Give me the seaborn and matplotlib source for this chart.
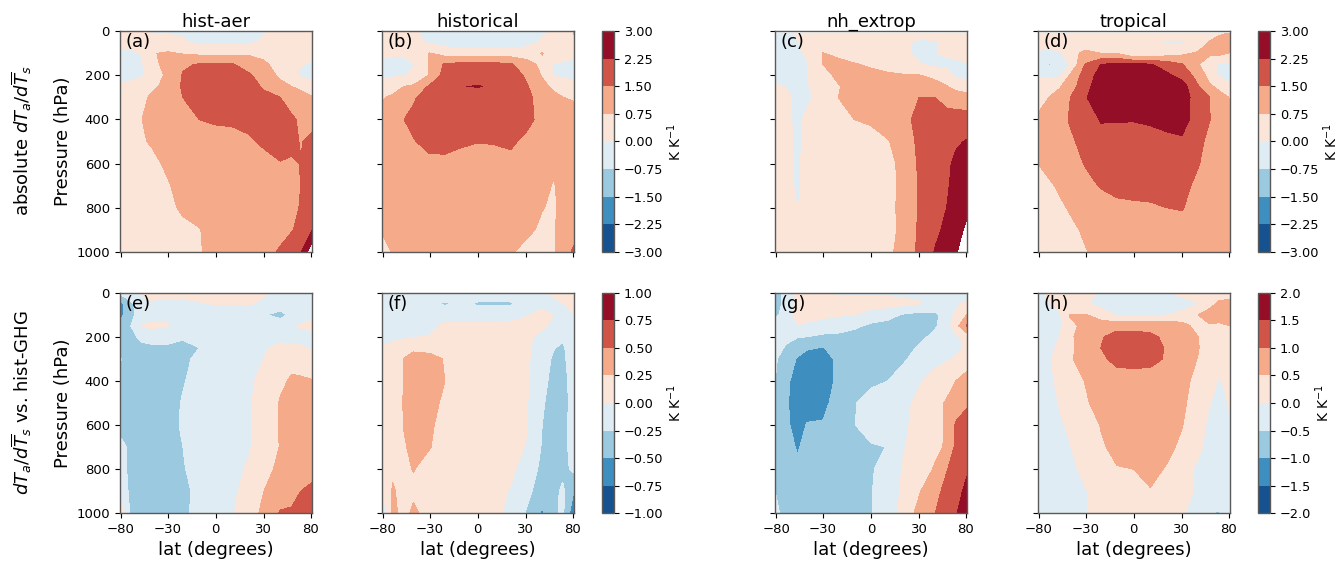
import numpy as np
import matplotlib
matplotlib.use("Agg")
import matplotlib.pyplot as plt
import seaborn as sns

# latitude columns (degrees) and pressure rows (hPa)
lat = [-87, -62, -50, -42, -30, -20, -10, 0, 10, 20, 30, 42, 52, 62, 87]
plev_a = [0, 50, 100, 150, 200, 250, 300, 400, 500, 600, 700, 800, 900, 1000]
plev_b = [10, 50, 100, 150, 200, 250, 300, 400, 500, 600, 700, 800, 900, 1000]

hist_aer_abs = [
    [.1, .1, .05, -.05, -.05, -.05, -.05, -.05, -.05, -.05, -.05, .1, .1, .1, .1],
    [.2, .2, .2, .2, .15, .05, -.1, -.1, -.1, -.1, .1, .2, .2, .2, .2],
    [-.1, -.1, .02, .7, .85, .7, .6, .6, .6, .65, .5, .3, .2, .2, .2],
    [-.3, -.25, -.05, .5, 1.0, 1.4, 1.55, 1.55, 1.55, 1.2, .9, .4, .2, .05, -.1],
    [-.2, -.2, -.05, .3, .9, 1.55, 2, 2, 1.9, 1.6, 1.2, .6, .2, -.1, -.2],
    [.1, .2, .4, .6, .95, 1.6, 2, 2, 2, 1.8, 1.4, 1, .75, .6, .3],
    [.2, .3, .6, .85, 1.1, 1.5, 2, 2, 2, 1.9, 1.7, 1.5, 1.2, 1, .8],
    [.3, .5, .75, 1, 1.2, 1.4, 1.5, 1.6, 1.6, 1.7, 1.8, 1.8, 1.6, 1.4, 1.2],
    [.3, .45, .7, .8, 1.1, 1.2, 1.2, 1.2, 1.3, 1.4, 1.6, 1.9, 1.7, 1.45, 1.7],
    [.3, .4, .5, .6, .85, 1.1, 1.2, 1.2, 1.2, 1.3, 1.3, 1.45, 1.4, 1.52, 1.9],
    [.3, .35, .4, .5, .7, .95, 1.1, 1.2, 1.2, 1.2, 1.2, 1.2, 1.3, 1.5, 2],
    [.3, .3, .35, .4, .6, .85, 1, 1.1, 1.1, 1.1, 1.1, 1.2, 1.3, 1.55, 2.0],
    [.3, .3, .3, .35, .45, .6, .72, 1, 1.1, 1.1, 1.1, 1.2, 1.45, 1.7, 2.2],
    [-.1, .3, .3, .35, .45, .6, .7, .95, 1, 1.1, 1.2, 1.6, 1.9, 2.15, 3.6],
]
historical_abs = [
    [.2, .2, .15, .1, -.2, -.3, -.3, -.3, -.3, -.3, -.3, -.1, .05, .1, .8],
    [.2, .2, .2, .2, -.1, -.3, -.4, -.4, -.4, -.4, -.3, .1, .2, .3, .6],
    [.2, .1, .1, .3, .78, .45, .3, .3, .3, .35, .45, .78, .4, .3, .2],
    [-.2, -.3, -.2, -.02, .8, 1.6, 1.7, 1.7, 1.7, 1.6, 1, .6, -.02, -.1, -.2],
    [-.1, -.1, -.02, .1, .8, 1.8, 2, 2, 2, 1.9, 1.4, .7, -.05, -.1, -.2],
    [.3, .5, .75, .85, 1.6, 2, 2.24, 2.27, 2.2, 2, 1.6, .95, .6, .4, .3],
    [.7, .85, 1.05, 1.4, 1.9, 2, 2, 2, 2, 2, 1.7, 1.2, .95, .76, .7],
    [.9, 1.05, 1.5, 1.7, 2, 2, 2, 2, 2, 2, 1.8, 1.2, 1.05, 1, .95],
    [.95, 1.05, 1.25, 1.45, 1.75, 1.7, 1.6, 1.52, 1.55, 1.65, 1.3, 1.1, 1.05, 1, .95],
    [.95, 1.05, 1.1, 1.15, 1.3, 1.35, 1.25, 1.2, 1.2, 1.25, 1.1, 1, .9, 1, 1],
    [.95, 1.05, 1.1, 1.1, 1.1, 1.1, 1.1, 1.1, 1.1, 1.1, 1.1, .95, .7, .95, 1],
    [.95, 1, 1.05, 1.05, 1.05, 1.05, 1.05, 1.05, 1.05, 1.05, 1.05, .78, .65, .95, 1],
    [.9, 1, 1, 1, 1, 1, 1, 1, 1, 1.05, .95, .6, .7, .95, 1],
    [-.1, .9, .75, 1, 1, 1, 1, 1, 1, .85, .5, .4, .72, .85, 1.7],
]
nh_extrop_abs = [
    [-.2, -.1, .05, .2, .2, .2, .2, .2, .2, .2, .2, .2, .2, .2, .2],
    [-.2, -.2, -.02, .15, .3, .3, .3, .3, .3, .1, -.1, -.05, .1, .2, .2],
    [-.2, -.2, -.15, .1, .78, .55, .4, .3, .3, .15, -.15, -.02, .1, .2, .25],
    [-.2, -.2, -.15, -.05, .75, 1.0, .8, .65, .5, .3, .05, -.15, -.2, -.15, -.05],
    [-.2, -.2, -.15, -.02, .5, .9, 1.0, .95, .85, .8, .78, .6, .3, -.1, -.2],
    [.05, -.02, -.1, -.05, .3, .7, 1.0, 1.05, 1.05, 1.05, 1.05, .95, .78, .5, .3],
    [.2, .1, -.1, -.1, .2, .75, .95, 1.1, 1.15, 1.2, 1.5, 1.5, 1.2, 1.15, 1.05],
    [.2, .1, -.1, .1, .3, .5, .75, .85, 1.1, 1.3, 1.7, 1.9, 1.8, 1.8, 1.8],
    [.2, .1, -.08, .1, .3, .35, .4, .5, .7, 1.1, 1.65, 1.9, 2.1, 2.15, 2.3],
    [.2, .1, -.05, .1, .3, .3, .35, .4, .55, .95, 1.6, 1.9, 2.1, 2.4, 3],
    [.2, .1, -.05, .1, .3, .3, .3, .35, .5, .95, 1.55, 1.85, 2.15, 2.5, 2.9],
    [.2, .15, -.01, .15, .3, .3, .3, .35, .55, .95, 1.55, 1.8, 2.25, 2.5, 2.9],
    [.2, .2, .1, .2, .3, .3, .3, .35, .5, .95, 1.6, 2.1, 2.4, 2.8, 3.1],
    [.2, .2, .2, .2, .3, .3, .3, .35, .6, 1, 1.65, 2.3, 2.6, 2.95, 3.3],
]
tropical_abs = [
    [.3, .4, .4, .3, -.1, .1, .3, .3, .3, .3, .3, .3, .5, .65, .8],
    [.3, .3, .4, .7, .5, .1, .1, .3, .2, -.1, -.1, .25, .8, 1.0, 1.05],
    [-.1, -.2, -.1, .6, .85, .75, .72, 0, .05, .4, .6, .85, .9, .95, .7],
    [-.2, -.8, -.7, 0, 1.55, 2.25, 2.4, 2.4, 2.3, 1.9, 1.55, .8, .2, -.1, -.2],
    [-.1, -.2, -.1, .75, 1.9, 2.5, 2.7, 2.7, 2.6, 2.4, 2.0, 1.2, .5, -.05, -.2],
    [.3, .45, .7, 1.1, 2.0, 2.7, 2.8, 2.8, 2.8, 2.7, 2.6, 1.55, .85, .6, .1],
    [.6, .75, 1.0, 1.45, 2.2, 2.7, 2.8, 2.8, 2.8, 2.7, 2.6, 1.9, 1.5, 1.0, .72],
    [.8, 1.05, 1.2, 1.55, 1.9, 2.3, 2.28, 2.28, 2.35, 2.5, 2.65, 1.8, 1.52, 1.2, 1],
    [.85, 1.0, 1.15, 1.35, 1.75, 2, 2.05, 2, 2, 2.05, 2.1, 1.7, 1.3, 1.15, 1],
    [.75, .95, 1.05, 1.2, 1.55, 1.9, 2, 2, 2, 2, 1.95, 1.55, 1.2, 1.1, 1],
    [.45, .65, .85, 1.0, 1.3, 1.55, 1.75, 1.8, 1.8, 1.8, 1.75, 1.3, 1.1, 1.05, 1],
    [.4, .5, .65, .8, 1.0, 1.2, 1.3, 1.35, 1.4, 1.5, 1.55, 1.15, 1.05, 1, 1],
    [.35, .4, .5, .6, .85, 1, 1.05, 1.1, 1.1, 1.15, 1.2, 1.05, 1, 1, 1],
    [.3, .3, .4, .45, .72, .9, 1, 1, 1, 1, 1, 1, 1, 1, 1],
]
hist_aer_diff = [
    [-.2, -.1, .03, .05, .05, .05, .05, .05, .05, .05, .02, -.05, -.1, -.1, -.1],
    [-.6, -.3, -.1, -.02, -.05, -.05, -.01, .01, .01, .02, -.03, -.1, -.1, -.1, -.1],
    [-.6, -.3, -.15, -.1, -.05, 0, -.1, -.1, -.1, -.15, -.23, -.33, -.2, -.1, -.05],
    [-.45, -.25, .02, .05, .02, -.1, -.15, -.15, -.15, -.15, -.15, -.1, -.02, .02, .05],
    [-.4, -.3, -.2, -.15, -.15, -.22, -.2, -.15, -.13, -.1, -.1, -.05, -.08, -.08, -.05],
    [-.4, -.35, -.3, -.3, -.3, -.32, -.25, -.2, -.15, -.08, -.02, .04, .05, .03, -.03],
    [-.24, -.3, -.35, -.35, -.32, -.28, -.22, -.18, -.12, -.05, 0, .1, .18, .18, .12],
    [-.3, -.33, -.35, -.33, -.3, -.26, -.2, -.15, -.1, -.03, .05, .2, .28, .27, .26],
    [-.3, -.33, -.33, -.33, -.3, -.24, -.18, -.15, -.1, -.02, .07, .27, .3, .3, .3],
    [-.3, -.3, -.3, -.3, -.28, -.24, -.18, -.12, -.08, -.02, .08, .27, .32, .32, .32],
    [-.2, -.28, -.33, -.33, -.3, -.25, -.19, -.12, -.08, -.02, .1, .26, .33, .35, .36],
    [-.2, -.28, -.3, -.3, -.3, -.26, -.2, -.12, -.05, .02, .18, .3, .35, .42, .42],
    [-.1, -.3, -.3, -.3, -.3, -.27, -.23, -.12, -.03, .06, .25, .38, .45, .5, .55],
    [.2, -.3, -.3, -.3, -.3, -.27, -.22, -.12, -.02, .15, .3, .52, .52, .55, .6],
]
historical_diff = [
    [-.05, -.1, -.1, -.1, -.1, -.1, -.1, -.1, -.1, -.1, -.05, -.01, .02, .05, .15],
    [-.1, -.1, -.1, -.15, -.2, -.28, -.2, -.28, -.28, -.28, -.15, -.05, -.03, 0, .1],
    [-.1, -.1, -.1, -.1, -.08, -.08, -.1, -.1, -.1, -.08, -.02, .05, 0, -.1, 0],
    [-.15, -.15, -.12, -.1, -.05, .03, .05, .05, .05, .05, .06, .03, -.03, -.1, -.1],
    [-.08, -.05, -.02, -.01, .01, .07, .08, .08, .08, .08, .05, -.05, -.1, -.22, -.1],
    [.02, .05, .1, .22, .2, .18, .1, .1, .1, .1, .06, -.15, -.24, -.28, -.12],
    [.03, .08, .26, .3, .3, .24, .12, .1, .1, .1, .05, -.15, -.28, -.3, -.12],
    [.05, .1, .26, .32, .32, .25, .15, .1, .1, .1, .04, -.18, -.32, -.33, -.15],
    [.05, .1, .27, .32, .3, .22, .13, .1, .1, .1, .03, -.22, -.35, -.35, -.15],
    [.05, .1, .26, .32, .28, .18, .12, .1, .1, .1, .02, -.25, -.35, -.35, -.12],
    [.05, .1, .23, .3, .26, .15, .1, .1, .1, .08, -.01, -.27, -.33, -.33, -.15],
    [.05, .2, .2, .26, .15, .1, .1, .1, .1, .06, -.12, -.3, -.32, -.32, -.2],
    [0, .28, .15, .2, .12, .1, .1, .1, .08, -.02, -.2, -.33, -.33, -.2, -.5],
    [-.3, .3, .18, .3, .15, .1, .1, .1, .05, -.05, -.26, -.55, -.3, -.2, -.7],
]
nh_extrop_diff = [
    [-.8, -.3, .1, .2, .2, -.05, -.05, -.05, -.05, -.05, -.05, -.05, -.1, -.2, -.2],
    [-.8, -.3, .1, .3, .3, .3, .25, .2, .2, .1, .02, -.1, -.2, -.1, .1],
    [-.6, -.3, .2, .2, .1, .05, 0, -.2, -.35, -.55, -.65, -.6, -.3, .1, .5],
    [-.35, -.1, -.02, -.1, -.2, -.3, -.4, -.6, -.65, -.7, -.7, -.55, -.25, .3, 1.05],
    [-.3, -.4, -.48, -.5, -.6, -.6, -.7, -.75, -.75, -.7, -.6, -.4, -.35, -.1, .2],
    [-.35, -.55, -.75, -.95, -1.02, -.85, -.8, -.75, -.75, -.65, -.45, -.3, -.2, -.1, .05],
    [-.45, -.7, -1.05, -1.2, -1.2, -.9, -.8, -.75, -.7, -.55, -.35, -.15, -.05, .05, .3],
    [-.5, -.9, -1.2, -1.25, -1.25, -.9, -.7, -.6, -.5, -.3, -.05, .2, .3, .5, .65],
    [-.5, -.95, -1.2, -1.15, -1.1, -.85, -.53, -.3, -.3, -.1, .1, .35, .55, .75, .9],
    [-.5, -.9, -1.2, -.98, -.97, -.75, -.52, -.25, -.3, -.05, .1, .35, .55, 1.05, 1.3],
    [-.5, -.8, -1.05, -.85, -.8, -.7, -.6, -.56, -.49, -.02, .15, .4, .55, 1.1, 1.35],
    [-.5, -.7, -.9, -.8, -.75, -.7, -.7, -.55, -.3, .05, .25, .55, .98, 1.15, 1.45],
    [-.5, -.65, -.8, -.75, -.7, -.65, -.65, -.52, -.3, .1, .45, .9, 1.1, 1.35, 1.6],
    [-.4, -.65, -.7, -.7, -.65, -.6, -.6, -.52, -.3, .2, .65, 1.0, 1.25, 1.45, 1.9],
]
tropical_diff = [
    [-.1, .05, .1, .1, .05, -.03, -.05, -.05, -.05, -.05, .05, .2, .25, .3, .3],
    [-.2, -.02, .15, .2, .05, -.15, -.2, -.15, -.2, -.25, -.15, -.02, .3, .6, .7],
    [-.3, -.2, -.05, .52, .52, .3, -.05, -.05, -.05, -.02, .1, .5, .75, .75, .85],
    [-.3, -.3, -.1, .4, .6, .7, .82, .82, .82, .8, .7, .3, .45, .4, .5],
    [-.3, -.25, .02, .4, .75, .95, 1.2, 1.2, 1.1, .9, .75, .5, .25, .2, -.05],
    [-.3, -.12, .1, .4, .7, 1.0, 1.25, 1.25, 1.2, .95, .75, .52, .3, .2, .2],
    [-.3, -.03, .1, .45, .65, .9, 1.15, 1.2, 1.15, .95, .75, .48, .3, .2, .15],
    [-.3, -.08, .1, .3, .52, .7, .75, .75, .75, .7, .6, .4, .1, -.02, .05],
    [-.35, -.15, .03, .15, .45, .65, .7, .7, .7, .68, .58, .3, .02, -.1, .03],
    [-.4, -.2, -.05, .05, .25, .52, .65, .65, .65, .62, .52, .18, -.1, -.2, -.02],
    [-.4, -.25, -.15, -.02, .15, .45, .6, .65, .65, .6, .42, .1, -.15, -.25, -.1],
    [-.4, -.3, -.2, -.1, .1, .3, .48, .5, .6, .47, .25, -.1, -.2, -.25, -.1],
    [-.4, -.3, -.25, -.2, -.02, .2, .3, .4, .48, .35, .2, -.08, -.2, -.3, -.1],
    [-.35, -.3, -.25, -.2, -.03, .15, .25, .3, .3, .25, .05, -.2, -.48, -.53, -.2],
]

top_titles = ["hist-aer", "historical", "nh_extrop", "tropical"]
panel_tags = ["(a)", "(b)", "(c)", "(d)", "(e)", "(f)", "(g)", "(h)"]
lat_ticks = [-80, -30, 0, 30, 80]
levels_top = np.linspace(-3, 3, 9)
levels_low = np.linspace(-1, 1, 9)
levels_high = np.linspace(-2, 2, 9)

sns.set_theme(style="ticks", rc={
    "font.family": "DejaVu Sans",
    "text.color": "black",
    "axes.labelcolor": "black",
    "xtick.color": "black",
    "ytick.color": "black",
    "axes.edgecolor": "0.35",
    "axes.linewidth": 1.0,
    "xtick.labelsize": 9.5,
    "ytick.labelsize": 9.5,
    "xtick.major.size": 3.5,
    "ytick.major.size": 3.5,
    "xtick.major.width": 0.8,
    "ytick.major.width": 0.8,
    "mathtext.default": "it",
})
cmap = sns.color_palette("RdBu_r", as_cmap=True)

W, H = 1339, 562


def px_axes(fig, x0, x1, y0, y1):
    return fig.add_axes([x0 / W, 1 - y1 / H, (x1 - x0) / W, (y1 - y0) / H])


fig = plt.figure(figsize=(W / 100, H / 100), dpi=100)
xs = np.sin(np.radians(lat))
col_px = [(119.6, 312), (381.6, 574), (775, 967), (1037.5, 1230)]
row_px = [(31.3, 251.7), (292.7, 513.3)]
fields = [
    (hist_aer_abs, plev_a, levels_top), (historical_abs, plev_a, levels_top),
    (nh_extrop_abs, plev_b, levels_top), (tropical_abs, plev_b, levels_top),
    (hist_aer_diff, plev_a, levels_low), (historical_diff, plev_a, levels_low),
    (nh_extrop_diff, plev_b, levels_high), (tropical_diff, plev_b, levels_high),
]

for i, (vals, plev, lev) in enumerate(fields):
    r, c = divmod(i, 4)
    ax = px_axes(fig, *col_px[c], *row_px[r])
    cf = ax.contourf(xs, plev, np.array(vals), levels=lev, cmap=cmap)
    ax.set_xlim(-1, 1)
    ax.set_ylim(1000, 0)
    ax.set_yticks(range(0, 1001, 200))
    ax.set_xticks(np.sin(np.radians(lat_ticks)))
    ax.text(0.03, 0.95, panel_tags[i], transform=ax.transAxes, fontsize=13, va="center")
    if r == 0:
        ax.set_title(top_titles[c], fontsize=13, pad=3)
        ax.set_xticklabels([])
    else:
        ax.set_xticklabels([str(t).replace("-", "\u2212") for t in lat_ticks])
        ax.set_xlabel("lat (degrees)", fontsize=13, labelpad=3.5)
    if c == 0:
        ax.set_ylabel("Pressure (hPa)", fontsize=13, labelpad=3)
    else:
        ax.set_yticklabels([])

    # colorbar sits next to the 2nd and 4th column
    if c == 1 or c == 3:
        cax = px_axes(fig, col_px[c][1] + 28, col_px[c][1] + 40, *row_px[r])
        cb = fig.colorbar(cf, cax=cax, ticks=lev)
        fmt = "%.1f" if lev is levels_high else "%.2f"
        cb.ax.set_yticklabels([(fmt % v).replace("-", "\u2212") for v in lev], fontsize=9.3)
        cb.set_label("K K$^{-1}$", fontsize=10, labelpad=1.5)
        cb.outline.set_edgecolor("0.35")

fig.text(22 / W, 1 - 141 / H, r"absolute $dT_a/d\overline{T}_s$", rotation=90,
         fontsize=13, ha="center", va="center")
fig.text(22 / W, 1 - 403 / H, r"$dT_a/d\overline{T}_s$ vs. hist-GHG", rotation=90,
         fontsize=13, ha="center", va="center")

fig.savefig("out.png", dpi=100)
plt.close(fig)
